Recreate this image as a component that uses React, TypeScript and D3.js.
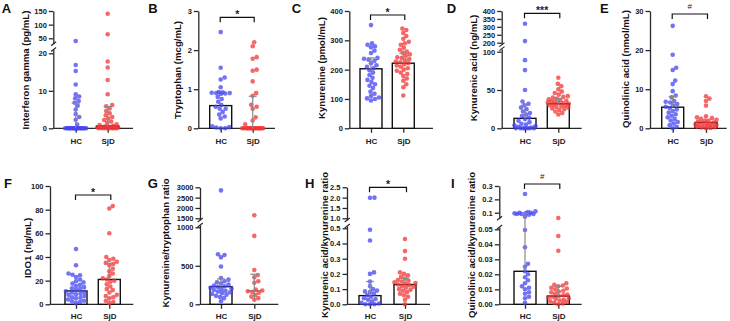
import * as d3 from "d3";
import { useEffect, useRef } from "react";

const groups = ["HC", "SjD"];

// A: interferon gamma (pg/mL)
const ifngHC = [40, 16.9, 15.3, 11.7, 9.1, 8.5, 8, 7.3, 6.8, 6, 5, 3.8, 3, 2.3, 1, 0, 0, 0, 0, 0, 0, 0, 0, 0, 0, 0, 0, 0, 0, 0, 0, 0, 0, 0, 0, 0];
const ifngSjD = [140, 65, 17.8, 16.2, 12.9, 9.1, 6.2, 5.9, 5.3, 4.6, 4, 3.5, 3, 2.6, 2.2, 1.8, 1.4, 1.1, 0.9, 0.7, 0.5, 0.4, 0.3, 0.2, 0.1, 0, 0, 0, 0, 0, 0, 0, 0];
// B: tryptophan (mcg/mL)
const trpHC = [2.46, 1.55, 1.3, 1.25, 1.05, 0.93, 0.92, 0.91, 0.9, 0.9, 0.89, 0.88, 0.8, 0.75, 0.68, 0.6, 0.55, 0.5, 0.5, 0.42, 0.35, 0.3, 0.25, 0.05, 0.03, 0.02, 0, 0];
const trpSjD = [2.2, 2.1, 1.82, 1.78, 1.5, 1.47, 1.2, 0.9, 0.83, 0.6, 0.55, 0.5, 0.28, 0.2, 0.1, 0, 0, 0, 0, 0, 0, 0, 0, 0, 0, 0, 0, 0, 0, 0, 0, 0, 0];
// C: kynurenine (pmol/mL)
const kynHC = [352, 290, 285, 280, 276, 265, 257, 240, 237, 234, 230, 222, 215, 210, 205, 198, 190, 182, 172, 165, 158, 150, 145, 137, 125, 118, 110, 105, 102, 100, 95];
const kynSjD = [340, 335, 325, 315, 305, 295, 290, 285, 275, 268, 262, 258, 252, 247, 242, 240, 236, 232, 228, 225, 222, 218, 214, 210, 205, 200, 196, 190, 185, 178, 170, 162, 150, 140, 112];
// D: kynurenic acid (ng/mL)
const kynaHC = [320, 210, 89, 76, 50, 35, 32, 30, 27, 25, 22, 20, 18, 16, 14, 12, 10, 8, 6, 5, 4, 3, 2, 1, 0, 0, 0, 0, 0, 0, 0];
const kynaSjD = [66, 58, 55, 51, 48, 46, 44, 42, 41, 40, 39, 38, 37, 36, 35, 35, 34, 33, 33, 32, 31, 30, 30, 29, 28, 27, 26, 25, 24, 22, 20, 18];
// E: quinolinic acid (nmol/mL)
const quinHC = [26.2, 18.8, 15.5, 14.9, 12.2, 11.3, 9.5, 8.4, 7.9, 7, 6.8, 6.6, 6.2, 5.8, 5.5, 5.2, 4.8, 4.4, 4, 3.6, 3.2, 2.8, 2.4, 2, 1.6, 1.2, 0.8, 0.4, 0];
const quinSjD = [8.2, 7.6, 7, 5.8, 3.1, 2.8, 2.6, 2.4, 2.2, 2, 1.9, 1.7, 1.5, 1.4, 1.2, 1.1, 1, 0.9, 0.8, 0.7, 0.6, 0.5, 0.4, 0.3, 0.2, 0.1, 0];
// F: IDO1 (ng/mL)
const idoHC = [46.7, 33, 26, 25, 24.5, 23, 21, 19.5, 18.5, 17.5, 16.5, 15.5, 14.5, 13.5, 13, 12, 11, 10.5, 10, 9, 8.5, 8, 7, 6, 5.5, 5, 4, 3, 2.5, 2, 1];
const idoSjD = [83, 81, 60, 40, 38.5, 37.5, 36, 35, 34, 33, 30, 28, 26, 24, 22, 21, 20, 19, 17, 15, 13, 12, 10, 8, 7, 6, 5, 3, 2, 1];
// G: kynurenine/tryptophan ratio
const ktHC = [2850, 650, 640, 610, 490, 340, 320, 300, 285, 270, 255, 245, 235, 225, 215, 205, 195, 185, 175, 165, 155, 145, 135, 125, 110, 95, 80, 40];
const ktSjD = [1650, 888, 445, 380, 350, 300, 280, 190, 180, 170, 160, 150, 120, 100, 80, 60];
// H: kynurenic acid/kynurenine ratio
const kakHC = [2.0, 1.99, 0.49, 0.42, 0.21, 0.2, 0.15, 0.12, 0.1, 0.09, 0.085, 0.08, 0.07, 0.06, 0.05, 0.04, 0.035, 0.03, 0.02, 0.01, 0.005, 0, 0, 0];
const kakSjD = [0.43, 0.35, 0.3, 0.21, 0.2, 0.19, 0.18, 0.17, 0.16, 0.155, 0.15, 0.145, 0.14, 0.135, 0.13, 0.125, 0.12, 0.115, 0.11, 0.1, 0.095, 0.09, 0.08, 0.07, 0.06, 0.05, 0.03, 0];
// I: quinolinic acid/kynurenine ratio
const qakHC = [0.24, 0.11, 0.105, 0.1, 0.1, 0.095, 0.095, 0.09, 0.09, 0.09, 0.085, 0.07, 0.0495, 0.038, 0.027, 0.025, 0.022, 0.02, 0.018, 0.016, 0.014, 0.012, 0.011, 0.01, 0.008, 0.007, 0.005, 0.004, 0.001];
const qakSjD = [0.06, 0.0455, 0.0357, 0.014, 0.013, 0.0125, 0.012, 0.011, 0.0105, 0.01, 0.009, 0.0085, 0.008, 0.007, 0.0065, 0.006, 0.0055, 0.005, 0.0045, 0.004, 0.0035, 0.003, 0.0025, 0.002, 0.0015, 0.001, 0.0005, 0];

// bar heights (HC, SjD) and upper error limits [from, to]
const barValues = {
  A: [0, 0.6], B: [0.58, 0], C: [203, 222], D: [13, 32], E: [5.4, 1.5],
  F: [11.3, 21], G: [229, 177], H: [0.057, 0.13], I: [0.022, 0.0055],
};
const errValues: Record<string, ([number, number] | null)[]> = {
  A: [[0, 6.7], [0.6, 5.8]], B: [null, [0, 0.82]], C: [[203, 240], [222, 256]],
  D: [[13, 30], [32, 39]], E: [[5.4, 8.1], null], F: [null, [21, 34.7]],
  G: [[229, 330], [70, 390]], H: [[0.057, 0.15], [0.13, 0.17]], I: [[0.022, 0.095], [0.0055, 0.012]],
};

type Seg = { domain: number[]; range: number[]; extent: number[]; ticks: number[]; fmt: string };
type Panel = {
  key: string; title: string; lx: number; ly: number; tx: number; ty: number;
  axisX: number; axisEnd: number; base: number; xs: [number, number]; xPad: number;
  segs: Seg[]; values: number[][]; sig?: { y: number; label: string }; medianLine?: boolean;
};

const TOP = 128.3;
const BOT = 304.3;

const panels: Panel[] = [
  {
    key: "A", title: "Interferon gamma (pg/mL)", lx: 1.7, ly: 12.5, tx: 25.5, ty: 70,
    axisX: 53.3, axisEnd: 133, base: TOP, xs: [75.7, 107.7], xPad: 5.6,
    segs: [
      { domain: [0, 20], range: [TOP, 53.3], extent: [0, 21], ticks: [0, 10, 20], fmt: "d" },
      { domain: [50, 150], range: [38.3, 11], extent: [30, 150], ticks: [50, 100, 150], fmt: "d" },
    ],
    values: [ifngHC, ifngSjD],
  },
  {
    key: "B", title: "Tryptophan (mcg/mL)", lx: 148.3, ly: 12.5, tx: 177.7, ty: 70,
    axisX: 198.3, axisEnd: 275, base: TOP, xs: [220.7, 252.7], xPad: 5.6,
    segs: [{ domain: [0, 3], range: [TOP, 11], extent: [0, 3], ticks: [0, 1, 2, 3], fmt: "d" }],
    values: [trpHC, trpSjD], sig: { y: 17.3, label: "*" },
  },
  {
    key: "C", title: "Kynurenine (pmol/mL)", lx: 291.7, ly: 12.5, tx: 321.7, ty: 68,
    axisX: 349.3, axisEnd: 433, base: TOP, xs: [371, 403.3], xPad: 5.6,
    segs: [{ domain: [0, 400], range: [TOP, 11], extent: [0, 400], ticks: [0, 100, 200, 300, 400], fmt: "d" }],
    values: [kynHC, kynSjD], sig: { y: 15, label: "*" },
  },
  {
    key: "D", title: "Kynurenic acid (ng/mL)", lx: 446.7, ly: 12.5, tx: 473.3, ty: 68,
    axisX: 501.7, axisEnd: 581.7, base: TOP, xs: [525, 558.3], xPad: 5.6,
    segs: [
      { domain: [0, 100], range: [TOP, 51.7], extent: [0, 104], ticks: [0, 50, 100], fmt: "d" },
      { domain: [200, 400], range: [42.7, 11], extent: [188, 400], ticks: [200, 250, 300, 350, 400], fmt: "d" },
    ],
    values: [kynaHC, kynaSjD], sig: { y: 13.3, label: "***" },
  },
  {
    key: "E", title: "Quinolinic acid (nmol/mL)", lx: 600, ly: 12.5, tx: 625.5, ty: 69,
    axisX: 650, axisEnd: 726.7, base: TOP, xs: [672.7, 706], xPad: 5.6,
    segs: [{ domain: [0, 30], range: [TOP, 11], extent: [0, 30], ticks: [0, 10, 20, 30], fmt: "d" }],
    values: [quinHC, quinSjD], sig: { y: 14, label: "#" },
  },
  {
    key: "F", title: "IDO1 (ng/mL)", lx: 4, ly: 188, tx: 27.5, ty: 248,
    axisX: 50, axisEnd: 133.3, base: BOT, xs: [76, 109.3], xPad: 4.3,
    segs: [{ domain: [0, 100], range: [BOT, 186], extent: [0, 100], ticks: [0, 20, 40, 60, 80, 100], fmt: "d" }],
    values: [idoHC, idoSjD], sig: { y: 195, label: "*" },
  },
  {
    key: "G", title: "Kynurenine/tryptophan ratio", lx: 147.7, ly: 188, tx: 165, ty: 243,
    axisX: 200, axisEnd: 278.3, base: BOT, xs: [221, 254.3], xPad: 4.3,
    segs: [
      { domain: [0, 1000], range: [BOT, 227.3], extent: [0, 1030], ticks: [0, 500, 1000], fmt: "d" },
      { domain: [1500, 3000], range: [218.3, 187.3], extent: [1420, 3000], ticks: [1500, 2000, 2500, 3000], fmt: "d" },
    ],
    values: [ktHC, ktSjD], medianLine: true,
  },
  {
    key: "H", title: "Kynurenic acid/kynurenine ratio", lx: 305, ly: 188, tx: 324, ty: 245,
    axisX: 347, axisEnd: 430, base: BOT, xs: [370, 405], xPad: 4.3,
    segs: [
      { domain: [0, 0.5], range: [BOT, 228.3], extent: [0, 0.515], ticks: [0, 0.1, 0.2, 0.3, 0.4, 0.5], fmt: ".1f" },
      { domain: [1, 2.5], range: [218.3, 187.3], extent: [0.92, 2.5], ticks: [1, 1.5, 2, 2.5], fmt: ".1f" },
    ],
    values: [kakHC, kakSjD], sig: { y: 187.3, label: "*" },
  },
  {
    key: "I", title: "Quinolinic acid/kynurenine ratio", lx: 451, ly: 188, tx: 471.7, ty: 245,
    axisX: 499.3, axisEnd: 581.7, base: BOT, xs: [525, 558.3], xPad: 4.3,
    segs: [
      { domain: [0, 0.05], range: [BOT, 229.3], extent: [0, 0.0515], ticks: [0, 0.01, 0.02, 0.03, 0.04, 0.05], fmt: ".2f" },
      { domain: [0.1, 0.3], range: [212.7, 186], extent: [0.058, 0.3], ticks: [0.1, 0.2, 0.3], fmt: ".1f" },
    ],
    values: [qakHC, qakSjD], sig: { y: 184, label: "#" },
  },
];

const FONT = "Arial, 'Liberation Sans', Helvetica, sans-serif";
const AXIS = "#2a2a2a";
const ERR = "#8a8a8a";
const COLORS = ["#4444f2", "#f23636"];
const R = 2.3;
const BAR_W = 22;

// simple deterministic beeswarm: nearest free horizontal offset, else the least crowded one
function swarm(ys: number[], r: number, maxW: number): number[] {
  const cands = [0];
  for (let d = 0.5; d <= maxW; d += 0.5) cands.push(d, -d);
  const placed: [number, number][] = [];
  const out: number[] = new Array(ys.length).fill(0);
  const order = d3.range(ys.length).sort((a, b) => d3.descending(ys[a], ys[b]));
  for (const i of order) {
    let best = 0;
    let bestD = -1;
    for (const c of cands) {
      let m = Infinity;
      for (const [px, py] of placed) m = Math.min(m, Math.hypot(px - c, py - ys[i]));
      if (m >= 2 * r * 0.9) { best = c; break; }
      if (m > bestD) { bestD = m; best = c; }
    }
    placed.push([best, ys[i]]);
    out[i] = best;
  }
  return out;
}

function drawPanel(svg: d3.Selection<SVGSVGElement, unknown, null, undefined>, p: Panel) {
  const g = svg.append("g");
  const segs = p.segs.map((s) => {
    const lin = d3.scaleLinear().domain(s.domain).range(s.range);
    return { ...s, scale: d3.scaleLinear().domain(s.extent).range(s.extent.map((v) => lin(v))) };
  });
  const y = (v: number) => {
    let s = segs[0];
    for (const seg of segs) if (v >= seg.extent[0]) s = seg;
    return s.scale(v);
  };
  const x = d3.scalePoint<string>().domain(groups).range(p.xs);

  // y axis, one piece per segment with break marks
  segs.forEach((s, i) => {
    const ax = g.append("g")
      .attr("transform", `translate(${p.axisX},0)`)
      .call(d3.axisLeft(s.scale).tickValues(s.ticks).tickFormat(d3.format(s.fmt) as any)
        .tickSize(4.5).tickSizeOuter(0).tickPadding(2));
    ax.attr("font-family", FONT).attr("font-size", 7.5).attr("font-weight", "bold");
    ax.select(".domain").attr("stroke", AXIS).attr("stroke-width", 1.3);
    ax.selectAll(".tick line").attr("stroke", AXIS).attr("stroke-width", 1.3);
    ax.selectAll(".tick text").attr("fill", "#1a1a1a");
    const ends: number[] = [];
    if (i > 0) ends.push(s.scale(s.extent[0]));
    if (i < segs.length - 1) ends.push(s.scale(s.extent[1]));
    ends.forEach((ey) => {
      g.append("line")
        .attr("x1", p.axisX - 2.3).attr("x2", p.axisX + 2.8)
        .attr("y1", ey + 2).attr("y2", ey - 2)
        .attr("stroke", AXIS).attr("stroke-width", 1.2);
    });
  });

  // x axis
  g.append("line")
    .attr("x1", p.axisX).attr("x2", p.axisEnd).attr("y1", p.base).attr("y2", p.base)
    .attr("stroke", AXIS).attr("stroke-width", 1.3);
  const xa = g.append("g")
    .attr("transform", `translate(0,${p.base})`)
    .call(d3.axisBottom(x).tickSize(4.5).tickPadding(p.xPad));
  xa.select(".domain").remove();
  xa.attr("font-family", FONT).attr("font-size", 8).attr("font-weight", "bold");
  xa.selectAll(".tick line").attr("stroke", AXIS).attr("stroke-width", 1.3);
  xa.selectAll(".tick text").attr("fill", "#1a1a1a");

  // bars
  const bars = (barValues as any)[p.key] as number[];
  bars.forEach((b, i) => {
    const cx = x(groups[i])!;
    if (p.medianLine && i === 1) {
      g.append("line")
        .attr("x1", cx - 7).attr("x2", cx + 7).attr("y1", y(b)).attr("y2", y(b))
        .attr("stroke", ERR).attr("stroke-width", 1.3);
    } else {
      g.append("rect")
        .attr("x", cx - BAR_W / 2).attr("width", BAR_W)
        .attr("y", y(b)).attr("height", p.base - y(b))
        .attr("fill", "#fff").attr("stroke", "#111").attr("stroke-width", 1.4);
    }
  });

  // dots
  p.values.forEach((vals, i) => {
    const ys = vals.map(y);
    const off = swarm(ys, R, 10.5);
    g.append("g")
      .selectAll("circle")
      .data(vals)
      .join("circle")
      .attr("cx", (_, j) => x(groups[i])! + off[j])
      .attr("cy", (_, j) => ys[j])
      .attr("r", R)
      .attr("fill", COLORS[i])
      .attr("fill-opacity", 0.75);
  });

  // error bars
  errValues[p.key].forEach((e, i) => {
    if (!e) return;
    const cx = x(groups[i])!;
    g.append("line")
      .attr("x1", cx).attr("x2", cx).attr("y1", y(e[0])).attr("y2", y(e[1]))
      .attr("stroke", ERR).attr("stroke-width", 1.2);
    g.append("line")
      .attr("x1", cx - 4).attr("x2", cx + 4).attr("y1", y(e[1])).attr("y2", y(e[1]))
      .attr("stroke", ERR).attr("stroke-width", 1.2);
  });

  // significance bracket
  if (p.sig) {
    const x0 = p.xs[0] - 0.5;
    const x1 = p.xs[1] + 1.5;
    const sy = p.sig.y;
    g.append("path")
      .attr("d", `M${x0},${sy + 5}V${sy}H${x1}V${sy + 5}`)
      .attr("fill", "none").attr("stroke", "#111").attr("stroke-width", 1.2);
    const star = p.sig.label !== "#";
    g.append("text")
      .attr("x", (x0 + x1) / 2)
      .attr("y", star ? sy + 1 : sy - 5.3)
      .attr("text-anchor", "middle")
      .attr("font-family", FONT)
      .attr("font-size", star ? 10.5 : 8)
      .attr("font-weight", star ? "bold" : "normal")
      .attr("fill", "#222")
      .text(p.sig.label);
  }

  // axis title and panel letter
  g.append("text")
    .attr("transform", `translate(${p.tx},${p.ty}) rotate(-90)`)
    .attr("text-anchor", "middle")
    .attr("dominant-baseline", "central")
    .attr("font-family", FONT)
    .attr("font-size", 9.6)
    .attr("font-weight", "bold")
    .attr("fill", "#111")
    .text(p.title);
  g.append("text")
    .attr("x", p.lx).attr("y", p.ly)
    .attr("font-family", FONT).attr("font-size", 13).attr("font-weight", "bold")
    .attr("fill", "#111")
    .text(p.key);
}

export default function App() {
  const ref = useRef<SVGSVGElement>(null);

  useEffect(() => {
    const svg = d3.select(ref.current!);
    svg.selectAll("*").remove();
    svg.append("rect").attr("width", 730).attr("height", 321).attr("fill", "#fff");
    panels.forEach((p) => drawPanel(svg, p));
  }, []);

  return (
    <svg
      ref={ref}
      width={730}
      height={321}
      style={{ position: "absolute", left: 0, top: 0, display: "block" }}
    />
  );
}
